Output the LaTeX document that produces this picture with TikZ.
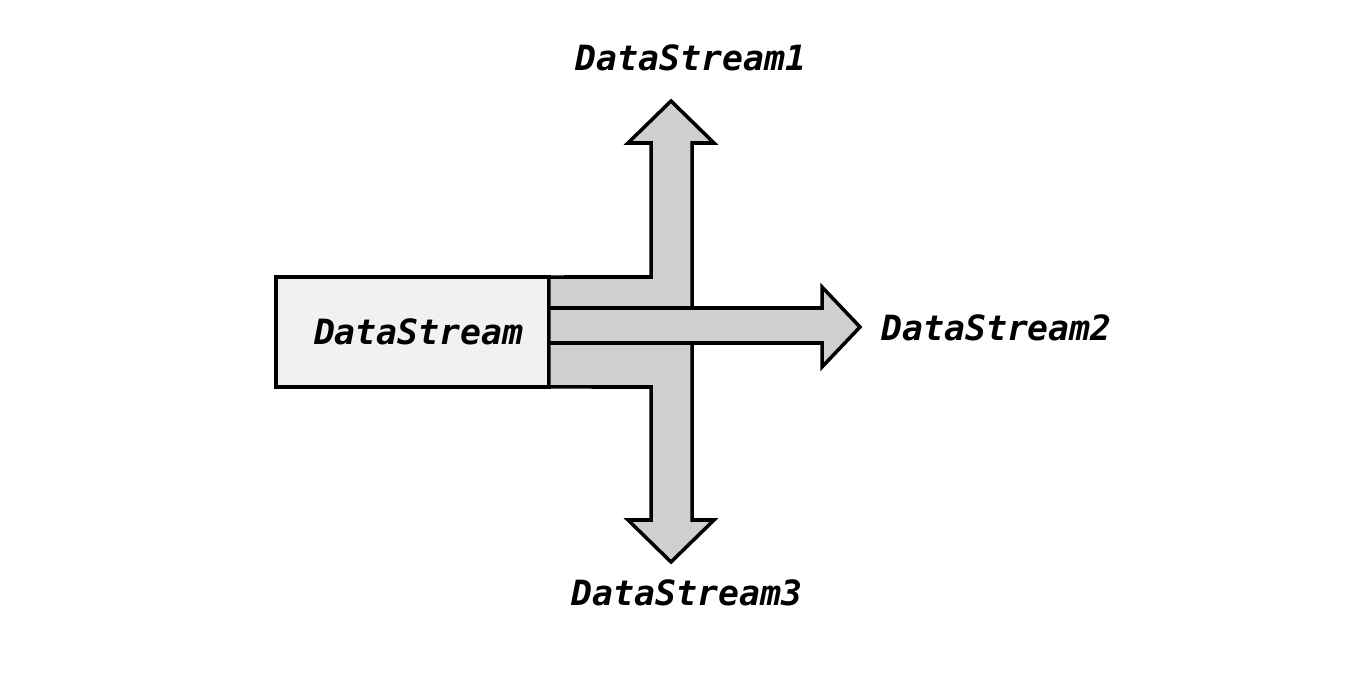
\documentclass[tikz,border=0pt]{standalone}
\usepackage{fontspec}
\setmonofont{DejaVu Sans Mono}
\usepackage{tikz}

\definecolor{boxgray}{HTML}{F1F1F1}
\definecolor{flowgray}{HTML}{D0CFD0}

\begin{document}
\begin{tikzpicture}[
    x=0.02cm, y=-0.02cm,
    srcbox/.style={rectangle, draw, line width=2pt, fill=boxgray, minimum width=5.46cm, minimum height=2.2cm, inner sep=0pt, outer sep=0pt, font=\fontsize{19.8}{22}\ttfamily\bfseries\itshape},
    flow/.style={draw, line width=2pt, fill=flowgray},
    label/.style={inner sep=0pt, font=\fontsize{19.8}{22}\ttfamily\bfseries\itshape}
]
\useasboundingbox (0,0) rectangle (1368,678);

% Source box
\node[srcbox] (src) at (412.5,332) {\hspace{0.25cm}DataStream};

% Upper branch
\draw[flow] (src.north east) -- (651,277) -- (651,143) -- (628,143) -- (671,101)
    -- (714,143) -- (692,143) -- (692,308) -- (src.east |- 0,308) -- cycle;

% Lower branch
\draw[flow] (src.east |- 0,343) -- (692,343) -- (692,520) -- (714,520) -- (671,562)
    -- (628,520) -- (651,520) -- (651,387) -- (src.south east) -- cycle;

% Middle branch
\draw[flow] (src.east |- 0,308) -- (822,308) -- (822,287) -- (860,327) -- (822,367)
    -- (822,343) -- (src.east |- 0,343) -- cycle;

% Outputs
\node[label] (ds1) at (691,58) {DataStream1};
\node[label, anchor=west] (ds2) at (881,328) {DataStream2};
\node[label] (ds3) at (687,593) {DataStream3};

\end{tikzpicture}
\end{document}
